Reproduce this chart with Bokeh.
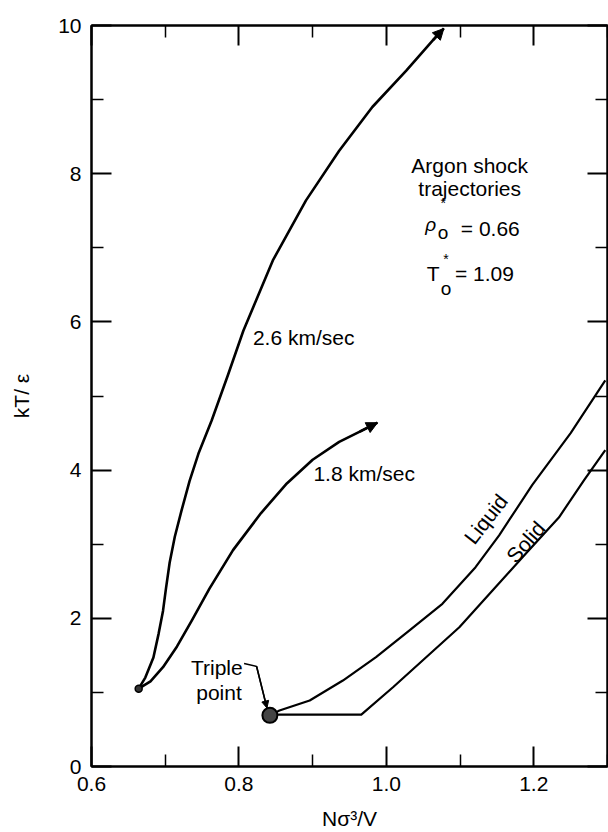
from bokeh.plotting import figure
from bokeh.models import LinearAxis, FixedTicker, Arrow, NormalHead
from bokeh.core.properties import value
from bokeh.embed import file_html
from bokeh.resources import INLINE

# ---------------- data ----------------
x_26 = [0.664, 0.673, 0.684, 0.691, 0.697, 0.701, 0.706, 0.713, 0.722, 0.733, 0.745,
        0.763, 0.785, 0.806, 0.846, 0.891, 0.936, 0.981, 1.027, 1.063, 1.078]
y_26 = [1.05, 1.20, 1.47, 1.79, 2.10, 2.40, 2.75, 3.10, 3.45, 3.85, 4.22,
        4.67, 5.28, 5.88, 6.83, 7.64, 8.31, 8.90, 9.39, 9.80, 9.96]

x_18 = [0.664, 0.680, 0.697, 0.716, 0.736, 0.760, 0.792, 0.830, 0.865, 0.900, 0.936, 0.964, 0.988]
y_18 = [1.05, 1.15, 1.34, 1.62, 1.97, 2.40, 2.92, 3.42, 3.82, 4.14, 4.38, 4.52, 4.64]

x_liquid = [0.842, 0.855, 0.896, 0.941, 0.986, 1.031, 1.076, 1.121, 1.153, 1.198, 1.250, 1.297]
y_liquid = [0.69, 0.755, 0.89, 1.16, 1.475, 1.835, 2.195, 2.69, 3.12, 3.80, 4.50, 5.21]

x_solid = [0.842, 0.966, 1.009, 1.054, 1.099, 1.144, 1.189, 1.234, 1.268, 1.297]
y_solid = [0.70, 0.70, 1.07, 1.475, 1.88, 2.375, 2.87, 3.36, 3.86, 4.27]

triple_x = [0.842]
triple_y = [0.69]
start_x = [0.664]
start_y = [1.05]

pointer_x = [0.807, 0.824, 0.838]
pointer_y = [1.39, 1.35, 0.79]

x_major = [0.6, 0.8, 1.0, 1.2]
x_tick_labels = ["0.6", "0.8", "1.0", "1.2"]
x_minor = [0.7, 0.9, 1.1, 1.3]
y_major = [0, 2, 4, 6, 8, 10]
y_tick_labels = ["0", "2", "4", "6", "8", "10"]
y_minor = [1, 3, 5, 7, 9]

FONT = value("Liberation Sans")
FS = "21px"

# ---------------- figure ----------------
p = figure(width=608, height=832, x_range=(0.6, 1.3), y_range=(0, 10),
           output_backend="svg", toolbar_location=None,
           min_border_left=91, min_border_top=25, min_border_right=1, min_border_bottom=40,
           background_fill_color="white", border_fill_color="white")
p.grid.visible = False
p.outline_line_color = "black"
p.outline_line_width = 2

def style_axis(ax, ticks, minor, labels=None):
    ax.ticker = FixedTicker(ticks=ticks, minor_ticks=minor)
    ax.axis_line_color = "black"
    ax.axis_line_width = 2
    ax.major_tick_in = 20
    ax.major_tick_out = 0
    ax.minor_tick_in = 12
    ax.minor_tick_out = 0
    ax.major_tick_line_width = 2
    ax.major_tick_line_color = "black"
    ax.minor_tick_line_width = 1.5
    ax.minor_tick_line_color = "black"
    if labels is not None:
        ax.major_label_overrides = {t: s for t, s in zip(ticks, labels)}
        ax.major_label_text_font = "Liberation Sans"
        ax.major_label_text_font_size = FS
        ax.major_label_text_color = "black"
        ax.axis_label_text_font = "Liberation Sans"
        ax.axis_label_text_font_size = FS
        ax.axis_label_text_font_style = "normal"
        ax.axis_label_text_color = "black"
    else:
        ax.major_label_overrides = {t: "" for t in ticks}
        ax.major_label_standoff = 0

xa = p.xaxis[0]
style_axis(xa, x_major, x_minor, x_tick_labels)
xa.axis_label = "Nσ³/V"
xa.major_label_standoff = 10
xa.axis_label_standoff = 13

ya = p.yaxis[0]
style_axis(ya, y_major, y_minor, y_tick_labels)
ya.axis_label = "kT/ ε"
ya.major_label_standoff = 10
ya.axis_label_standoff = 22

top = LinearAxis()
style_axis(top, x_major, x_minor)
p.add_layout(top, "above")
right = LinearAxis()
style_axis(right, y_major, y_minor)
p.add_layout(right, "right")

# ---------------- curves ----------------
LW = 2.6
p.line(x_26, y_26, line_color="black", line_width=LW, line_join="round")
p.line(x_18, y_18, line_color="black", line_width=LW, line_join="round")
p.line(x_liquid, y_liquid, line_color="black", line_width=2.2, line_join="round")
p.line(x_solid, y_solid, line_color="black", line_width=2.2, line_join="round")

for xs, ys in ((x_26, y_26), (x_18, y_18)):
    p.add_layout(Arrow(end=NormalHead(size=11, fill_color="black", line_color="black"),
                       x_start=xs[-2], y_start=ys[-2], x_end=xs[-1], y_end=ys[-1],
                       line_width=LW, line_color="black"))

p.scatter(triple_x, triple_y, size=15, fill_color="#444444", line_color="black", line_width=2)
p.scatter(start_x, start_y, size=7, fill_color="#333333", line_color="black", line_width=1.5)

# pointer for triple point
p.line(pointer_x, pointer_y, line_color="black", line_width=1.5)
p.add_layout(Arrow(end=NormalHead(size=7, fill_color="black", line_color="black"),
                   x_start=pointer_x[-2], y_start=pointer_y[-2],
                   x_end=pointer_x[-1], y_end=pointer_y[-1],
                   line_width=1.5, line_color="black"))

# ---------------- texts ----------------
def txt(x, y, s, size=FS, align="left", angle=0, style="normal"):
    p.text(x=[x], y=[y], text=[s], text_font=FONT, text_font_size=size,
           text_align=align, text_baseline="middle", text_color="black", angle=angle,
           angle_units="deg", text_font_style=style)

txt(0.819, 5.79, "2.6 km/sec")
txt(0.901, 3.95, "1.8 km/sec")
txt(1.113, 8.11, "Argon shock", align="center")
txt(1.113, 7.80, "trajectories", align="center")
txt(1.060, 7.31, "ρ", size="19px", align="center", style="italic")
txt(1.077, 7.60, "*", size="14px", align="center")
txt(1.077, 7.21, "o", size="19px", align="center")
txt(1.101, 7.26, "= 0.66")
txt(1.0635, 6.65, "T", align="center")
txt(1.081, 6.85, "*", size="14px", align="center")
txt(1.081, 6.45, "o", size="19px", align="center")
txt(1.093, 6.65, "= 1.09")
txt(1.135, 3.34, "Liquid", align="center", angle=52)
txt(1.189, 3.03, "Solid", align="center", angle=49)
txt(0.770, 1.34, "Triple", align="center")
txt(0.773, 1.00, "point", align="center")

open("out.html", "w").write(file_html(p, INLINE))
